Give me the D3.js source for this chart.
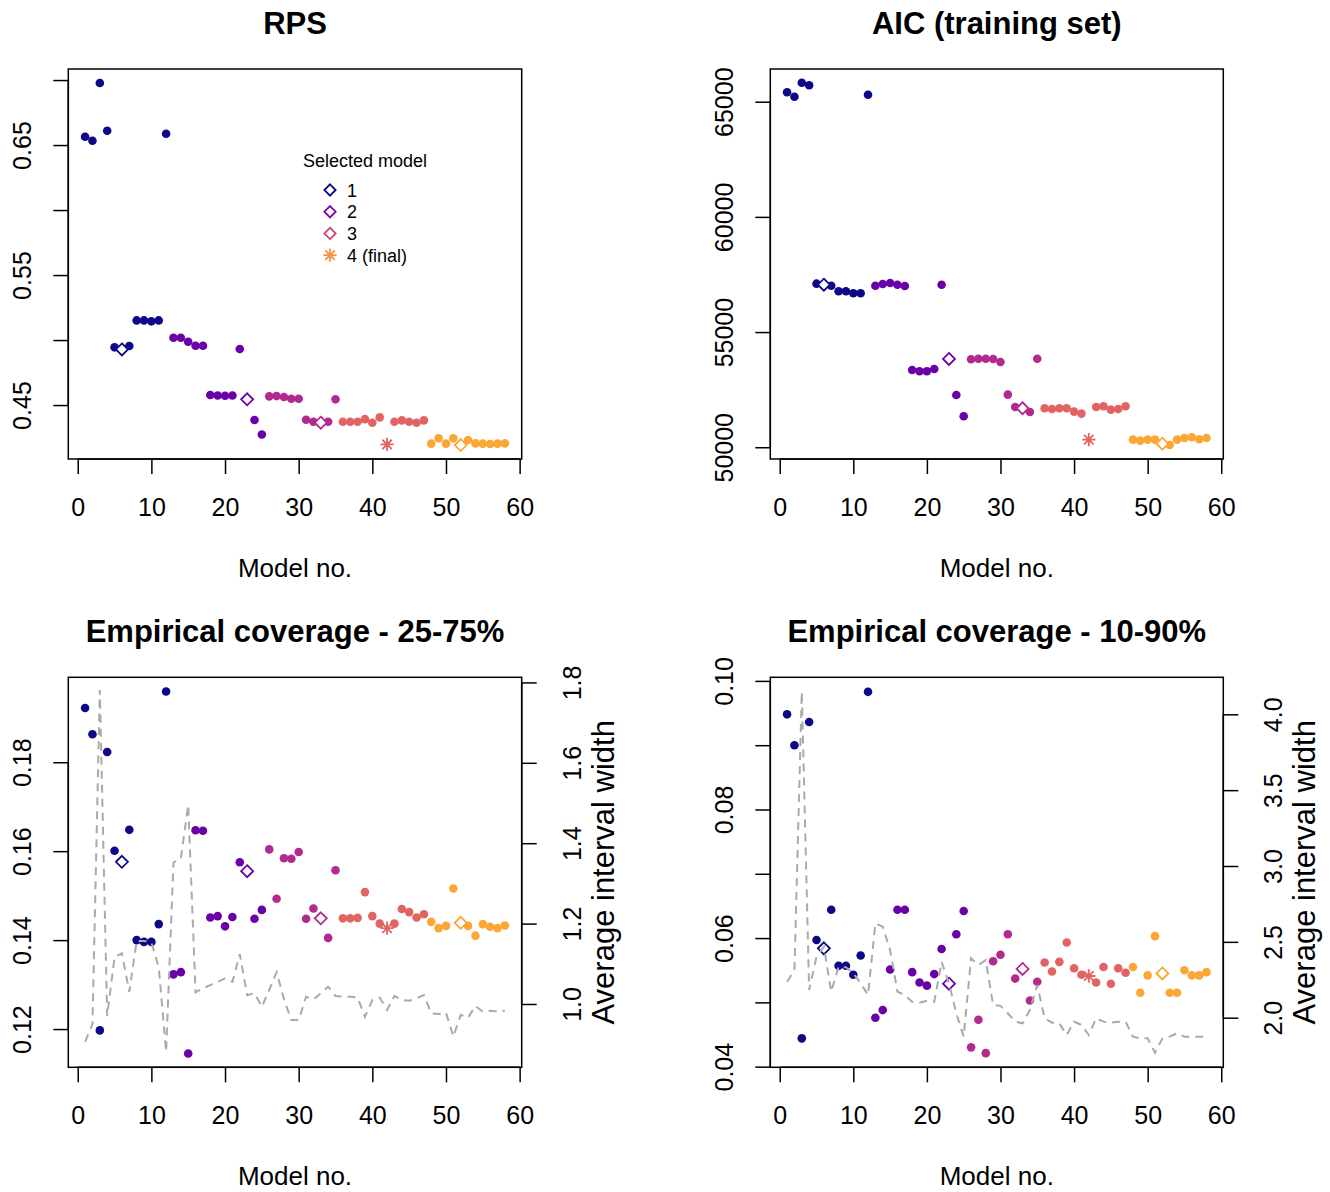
<!DOCTYPE html>
<html>
<head>
<meta charset="utf-8">
<script src="https://cdn.jsdelivr.net/npm/d3@7"></script>
<style>
  body { margin: 0; background: #fff; }
  svg { display: block; }
  text { font-family: "Liberation Sans", Arial, sans-serif; fill: #000; }
</style>
</head>
<body>
<div id="chart"></div>
<script>
// model stage (colour group) for models 1..58
const stage = [
  0,0,0,0,0,0,0,0,0,0,0,0,
  1,1,1,1,1,1,1,1,1,1,1,1,1,
  2,2,2,2,2,2,2,2,2,2,
  3,3,3,3,3,3,3,3,3,3,3,3,
  4,4,4,4,4,4,4,4,4,4,4
];
const selectedModels = [6, 23, 33, 52];
const finalModel = 42;

const rps = [
  0.6564, 0.6533, 0.6977, 0.6610, 0.4944, 0.4928, 0.4954, 0.5151, 0.5151, 0.5144,
  0.5151, 0.6587, 0.5018, 0.5018, 0.4987, 0.4956, 0.4956, 0.4577, 0.4574, 0.4572,
  0.4574, 0.4931, 0.4544, 0.4385, 0.4274, 0.4567, 0.4569, 0.4562, 0.4549, 0.4549,
  0.4387, 0.4372, 0.4364, 0.4372, 0.4544, 0.4372, 0.4372, 0.4372, 0.4392, 0.4364,
  0.4405, 0.4197, 0.4372, 0.4382, 0.4372, 0.4364, 0.4382, 0.4203, 0.4244, 0.4203,
  0.4244, 0.4192, 0.4231, 0.4205, 0.4203, 0.4200, 0.4203, 0.4205
];
const aic = [
  65408, 65217, 65825, 65712, 57101, 57057, 57014, 56771, 56771, 56684,
  56684, 65304, 57014, 57088, 57131, 57057, 57000, 53355, 53299, 53299,
  53398, 57057, 53832, 52270, 51345, 53819, 53845, 53845, 53832, 53702,
  52283, 51749, 51693, 51532, 53845, 51693, 51663, 51693, 51693, 51547,
  51458, 50330, 51749, 51778, 51634, 51663, 51778, 50330, 50287, 50330,
  50330, 50156, 50100, 50330, 50402, 50431, 50345, 50402
];
const cov50 = [
  0.1922, 0.1863, 0.1197, 0.1823, 0.1601, 0.1576, 0.1648, 0.1400, 0.1396, 0.1396,
  0.1436, 0.1959, 0.1323, 0.1328, 0.1145, 0.1647, 0.1646, 0.1451, 0.1454, 0.1431,
  0.1452, 0.1575, 0.1555, 0.1448, 0.1468, 0.1604, 0.1493, 0.1584, 0.1583, 0.1598,
  0.1448, 0.1471, 0.1449, 0.1405, 0.1557, 0.1449, 0.1449, 0.1450, 0.1508, 0.1454,
  0.1437, 0.1427, 0.1437, 0.1470, 0.1463, 0.1451, 0.1458, 0.1441, 0.1427, 0.1432,
  0.1516, 0.1439, 0.1432, 0.1410, 0.1436, 0.1430, 0.1427, 0.1433
];
const width50 = [
  0.906, 0.950, 1.781, 0.970, 1.117, 1.126, 1.030, 1.157, 1.157, 1.153,
  1.091, 0.881, 1.352, 1.362, 1.495, 1.029, 1.039, 1.047, 1.055, 1.064,
  1.055, 1.124, 1.022, 1.027, 0.993, 1.035, 1.079, 1.012, 0.960, 0.960,
  1.018, 1.011, 1.027, 1.043, 1.020, 1.018, 1.018, 1.016, 0.968, 1.010,
  1.016, 0.985, 1.020, 1.010, 1.008, 1.014, 1.022, 0.977, 0.975, 0.978,
  0.919, 0.973, 0.966, 0.995, 0.981, 0.983, 0.981, 0.983
];
const cov80 = [
  0.0948, 0.0900, 0.0444, 0.0936, 0.0597, 0.0584, 0.0644, 0.0557, 0.0557, 0.0543,
  0.0573, 0.0983, 0.0476, 0.0488, 0.0551, 0.0644, 0.0644, 0.0547, 0.0531, 0.0526,
  0.0544, 0.0583, 0.0529, 0.0606, 0.0642, 0.0430, 0.0473, 0.0421, 0.0564, 0.0574,
  0.0606, 0.0537, 0.0552, 0.0503, 0.0532, 0.0562, 0.0548, 0.0563, 0.0593, 0.0553,
  0.0543, 0.0541, 0.0531, 0.0555, 0.0529, 0.0553, 0.0546, 0.0555, 0.0515, 0.0542,
  0.0603, 0.0545, 0.0515, 0.0515, 0.0550, 0.0542, 0.0542, 0.0547
];
const width80 = [
  2.237, 2.314, 4.149, 2.183, 2.402, 2.468, 2.171, 2.336, 2.332, 2.293,
  2.227, 2.150, 2.622, 2.600, 2.447, 2.171, 2.150, 2.105, 2.099, 2.112,
  2.105, 2.369, 2.227, 2.029, 1.875, 2.392, 2.347, 2.380, 2.084, 2.078,
  2.029, 1.974, 1.963, 2.051, 2.216, 1.996, 1.967, 1.963, 1.886, 1.974,
  1.952, 1.886, 1.996, 1.974, 1.967, 1.974, 1.974, 1.875, 1.864, 1.864,
  1.769, 1.864, 1.875, 1.897, 1.875, 1.875, 1.875, 1.875
];

const xTicks = [0, 10, 20, 30, 40, 50, 60];
const legendLabels = ["1", "2", "3", "4 (final)"];

const stageColors = ["#0D0887", "#6A00A8", "#B12A90", "#E16462", "#FCA636"];
const legendColors = ["#0D0887", "#7E03A8", "#CC4678", "#F89441"];
const lineColor = "#AAAAAA";

const W = 1330, H = 1192;

const svg = d3.select("#chart").append("svg")
  .attr("width", W)
  .attr("height", H);

// R's pch 5 (open diamond) and pch 8 (asterisk) as d3 symbol types
const diamondType = {
  draw(ctx, size) {
    const r = Math.sqrt(size);
    ctx.moveTo(0, -r); ctx.lineTo(r, 0); ctx.lineTo(0, r); ctx.lineTo(-r, 0); ctx.closePath();
  }
};
const starType = {
  draw(ctx, size) {
    const r = Math.sqrt(size), d = r * 0.7071;
    ctx.moveTo(-r, 0); ctx.lineTo(r, 0);
    ctx.moveTo(0, -r); ctx.lineTo(0, r);
    ctx.moveTo(-d, -d); ctx.lineTo(d, d);
    ctx.moveTo(-d, d); ctx.lineTo(d, -d);
  }
};

const panels = [
  {
    title: "RPS", values: rps,
    box: { l: 68.3, t: 69, r: 521.7, b: 459 },
    yDomain: [0.4085, 0.7085],
    yTicks: [0.45, 0.50, 0.55, 0.60, 0.65, 0.70],
    yLabelled: [0.45, 0.55, 0.65],
    fmt: d3.format(".2f"),
    legend: true
  },
  {
    title: "AIC (training set)", values: aic,
    box: { l: 770.3, t: 69, r: 1223.3, b: 459 },
    yDomain: [49490, 66420],
    yTicks: [50000, 55000, 60000, 65000],
    yLabelled: [50000, 55000, 60000, 65000],
    fmt: d3.format("d")
  },
  {
    title: "Empirical coverage - 25-75%", values: cov50, widths: width50,
    box: { l: 68.3, t: 677.3, r: 521.7, b: 1067.3 },
    yDomain: [0.1114, 0.1991],
    yTicks: [0.12, 0.14, 0.16, 0.18],
    yLabelled: [0.12, 0.14, 0.16, 0.18],
    fmt: d3.format(".2f"),
    y2Domain: [0.8425, 1.8127],
    y2Ticks: [1.0, 1.2, 1.4, 1.6, 1.8],
    fmt2: d3.format(".1f")
  },
  {
    title: "Empirical coverage - 10-90%", values: cov80, widths: width80,
    box: { l: 770.3, t: 677.3, r: 1223.3, b: 1067.3 },
    yDomain: [0.0399, 0.10056],
    yTicks: [0.04, 0.05, 0.06, 0.07, 0.08, 0.09, 0.10],
    yLabelled: [0.04, 0.06, 0.08, 0.10],
    fmt: d3.format(".2f"),
    y2Domain: [1.673, 4.244],
    y2Ticks: [2.0, 2.5, 3.0, 3.5, 4.0],
    fmt2: d3.format(".1f")
  }
];

const TICK = 15;
const TICK_FONT = 25;

panels.forEach(p => {
  const b = p.box;
  const g = svg.append("g");

  const x = d3.scaleLinear().domain([-1.28, 60.28]).range([b.l, b.r]);
  const y = d3.scaleLinear().domain(p.yDomain).range([b.b, b.t]);

  // title
  g.append("text")
    .attr("x", (b.l + b.r) / 2)
    .attr("y", b.t - 35)
    .attr("text-anchor", "middle")
    .attr("font-size", 31)
    .attr("font-weight", "bold")
    .text(p.title);

  // bottom axis
  const xAxis = d3.axisBottom(x).tickValues(xTicks).tickSize(TICK).tickSizeOuter(0).tickPadding(0)
    .tickFormat(d3.format("d"));
  const gx = g.append("g").attr("transform", `translate(0,${b.b})`).call(xAxis);
  gx.select(".domain").attr("d", `M${x(0)},0H${x(60)}`).attr("stroke-width", 1.5);
  gx.selectAll(".tick line").attr("stroke-width", 1.5);
  gx.selectAll(".tick text")
    .attr("font-size", TICK_FONT)
    .attr("font-family", "Liberation Sans, Arial, sans-serif")
    .attr("dy", null)
    .attr("y", 57);

  // left axis
  const yAxis = d3.axisLeft(y).tickValues(p.yTicks).tickSize(TICK).tickSizeOuter(0)
    .tickFormat(d => p.yLabelled.some(v => Math.abs(v - d) < 1e-9) ? p.fmt(d) : "");
  const gy = g.append("g").attr("transform", `translate(${b.l},0)`).call(yAxis);
  gy.select(".domain")
    .attr("d", `M0,${y(p.yTicks[0])}V${y(p.yTicks[p.yTicks.length - 1])}`)
    .attr("stroke-width", 1.5);
  gy.selectAll(".tick line").attr("stroke-width", 1.5);
  gy.selectAll(".tick text")
    .attr("font-size", TICK_FONT)
    .attr("font-family", "Liberation Sans, Arial, sans-serif")
    .attr("x", null).attr("dy", null)
    .attr("text-anchor", "middle")
    .attr("transform", "translate(-37,0) rotate(-90)");

  // x label
  g.append("text")
    .attr("x", (b.l + b.r) / 2)
    .attr("y", b.b + 118)
    .attr("text-anchor", "middle")
    .attr("font-size", 26)
    .text("Model no.");

  // box
  g.append("rect")
    .attr("x", b.l).attr("y", b.t)
    .attr("width", b.r - b.l).attr("height", b.b - b.t)
    .attr("fill", "none").attr("stroke", "#000").attr("stroke-width", 1.5);

  const idx = d3.range(p.values.length);
  const marker = i => (i + 1) === finalModel ? "star" : selectedModels.includes(i + 1) ? "diamond" : "dot";

  // plain points
  g.append("g").selectAll("circle")
    .data(idx.filter(i => marker(i) === "dot"))
    .join("circle")
    .attr("cx", i => x(i + 1))
    .attr("cy", i => y(p.values[i]))
    .attr("r", 4.3)
    .attr("fill", i => stageColors[stage[i]]);

  // selected models (open diamonds) and final model (asterisk)
  g.append("g").selectAll("path")
    .data(idx.filter(i => marker(i) !== "dot"))
    .join("path")
    .attr("transform", i => `translate(${x(i + 1)},${y(p.values[i])})`)
    .attr("d", i => d3.symbol().type(marker(i) === "star" ? starType : diamondType)
      .size(marker(i) === "star" ? 44 : 36)())
    .attr("fill", i => marker(i) === "diamond" ? "#fff" : "none")
    .attr("stroke", i => stageColors[stage[i]])
    .attr("stroke-width", 1.8);

  // interval width on the secondary axis
  if (p.widths) {
    const y2 = d3.scaleLinear().domain(p.y2Domain).range([b.b, b.t]);
    g.append("path")
      .datum(p.widths)
      .attr("fill", "none")
      .attr("stroke", lineColor)
      .attr("stroke-width", 2)
      .attr("stroke-dasharray", "8,6")
      .attr("d", d3.line().x((d, i) => x(i + 1)).y(d => y2(d)));

    const y2Axis = d3.axisRight(y2).tickValues(p.y2Ticks).tickSize(TICK).tickSizeOuter(0)
      .tickFormat(p.fmt2);
    const gy2 = g.append("g").attr("transform", `translate(${b.r},0)`).call(y2Axis);
    gy2.select(".domain")
      .attr("d", `M0,${y2(p.y2Ticks[0])}V${y2(p.y2Ticks[p.y2Ticks.length - 1])}`)
      .attr("stroke-width", 1.5);
    gy2.selectAll(".tick line").attr("stroke-width", 1.5);
    gy2.selectAll(".tick text")
      .attr("font-size", TICK_FONT)
      .attr("font-family", "Liberation Sans, Arial, sans-serif")
      .attr("x", null).attr("dy", null)
      .attr("text-anchor", "middle")
      .attr("transform", "translate(59,0) rotate(-90)");

    g.append("text")
      .attr("transform", `translate(${b.r + 92},${(b.t + b.b) / 2}) rotate(-90)`)
      .attr("text-anchor", "middle")
      .attr("font-size", 31)
      .text("Average interval width");
  }

  // legend
  if (p.legend) {
    const lg = g.append("g");
    lg.append("text")
      .attr("x", 365).attr("y", 167)
      .attr("text-anchor", "middle")
      .attr("font-size", 18)
      .text("Selected model");
    const rows = lg.selectAll("g.row")
      .data(legendLabels)
      .join("g")
      .attr("class", "row")
      .attr("transform", (d, i) => `translate(330,${190 + i * 21.7})`);
    rows.append("path")
      .attr("d", (d, i) => d3.symbol().type(i === 3 ? starType : diamondType).size(i === 3 ? 44 : 32)())
      .attr("fill", "none")
      .attr("stroke", (d, i) => legendColors[i])
      .attr("stroke-width", 1.8);
    rows.append("text")
      .attr("x", 17).attr("y", 6.5)
      .attr("font-size", 18)
      .text(d => d);
  }
});
</script>
</body>
</html>
